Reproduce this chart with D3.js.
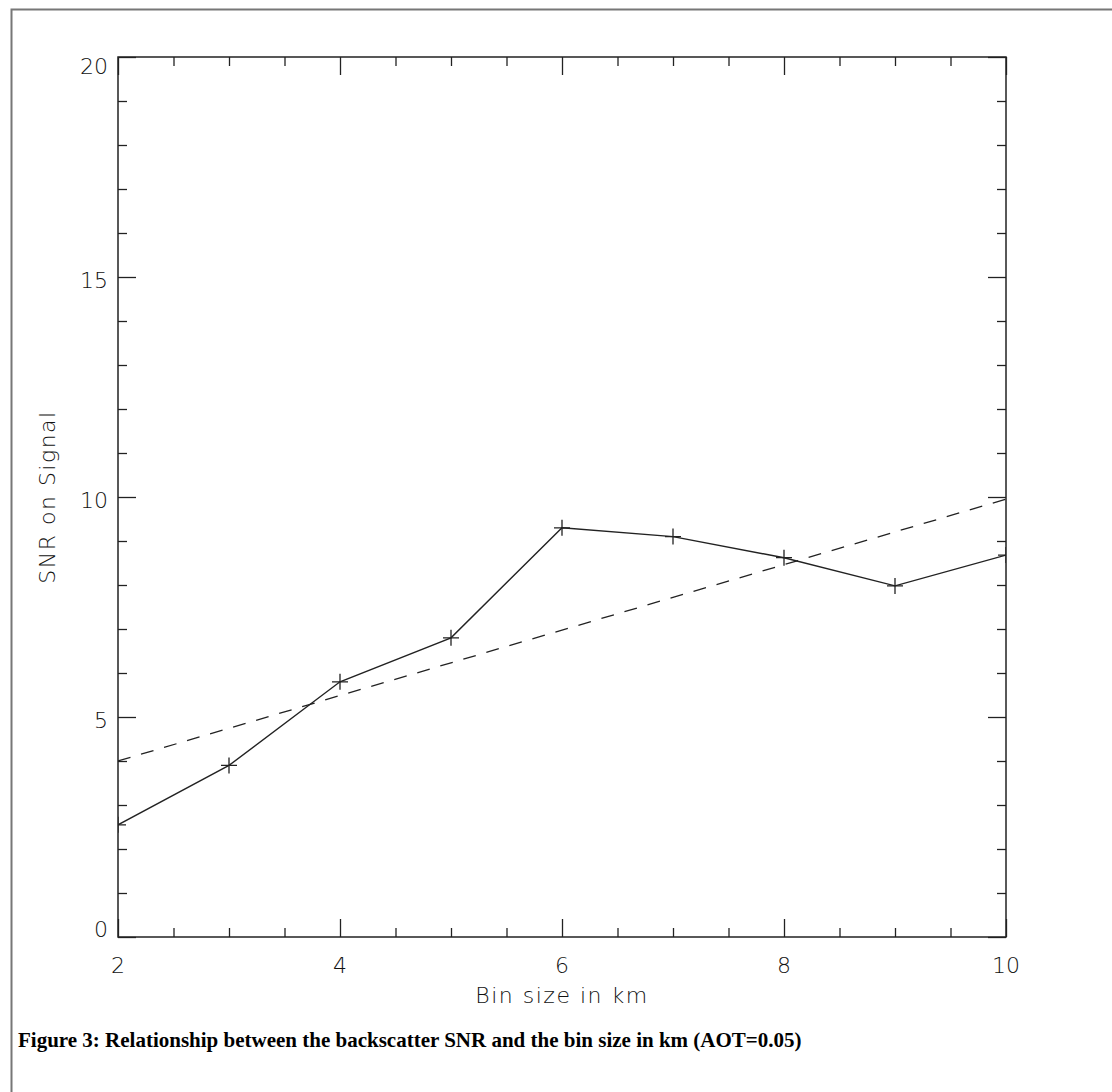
<!DOCTYPE html>
<html>
<head>
<meta charset="utf-8">
<script src="https://cdn.jsdelivr.net/npm/d3@7"></script>
<style>
  body { margin: 0; background: #fff; }
  svg { display: block; }
  .tick-label { font-family: "DejaVu Sans", sans-serif; font-weight: 200; font-size: 22px; fill: #111; }
  .axis-title { font-family: "DejaVu Sans", sans-serif; font-weight: 200; font-size: 22px; fill: #111; letter-spacing: 1.5px; }
  .caption { font-family: "Liberation Serif", serif; font-weight: bold; font-size: 21px; fill: #000; }
</style>
</head>
<body>
<script>
// bin size (km) and SNR
const binSize = [2, 3, 4, 5, 6, 7, 8, 9, 10];
const snr = [2.55, 3.9, 5.8, 6.8, 9.3, 9.1, 8.62, 7.98, 8.68];

// dashed trend line endpoints
const fitX = [2, 10];
const fitY = [4.0, 9.95];

const xTicks = [2, 4, 6, 8, 10];
const yTicks = [0, 5, 10, 15, 20];

const width = 1112, height = 1092;
const plotLeft = 118, plotRight = 1006, plotTop = 57, plotBottom = 937;

const svg = d3.select('body').append('svg')
  .attr('width', width)
  .attr('height', height);

// page frame (left and top edges only)
svg.append('path')
  .attr('d', `M11.5 ${height}V9.5H${width}`)
  .attr('fill', 'none')
  .attr('stroke', '#777')
  .attr('stroke-width', 2);

const x = d3.scaleLinear().domain([2, 10]).range([plotLeft, plotRight]);
const y = d3.scaleLinear().domain([0, 20]).range([plotBottom, plotTop]);

const minorX = d3.range(2, 10.01, 0.5).filter(v => v % 2 !== 0);
const minorY = d3.range(0, 20.01, 1).filter(v => v % 5 !== 0);

const addAxis = (axis, transform) => {
  const g = svg.append('g')
    .attr('transform', transform)
    .call(axis);
  g.select('.domain').remove();
  g.selectAll('line').attr('stroke', '#222').attr('stroke-width', 1.3);
  return g;
};

// major and minor ticks on all four sides, pointing inward
addAxis(d3.axisTop(x).tickValues(xTicks).tickSize(18).tickFormat(''), `translate(0,${plotBottom})`);
addAxis(d3.axisTop(x).tickValues(minorX).tickSize(9).tickFormat(''), `translate(0,${plotBottom})`);
addAxis(d3.axisBottom(x).tickValues(xTicks).tickSize(18).tickFormat(''), `translate(0,${plotTop})`);
addAxis(d3.axisBottom(x).tickValues(minorX).tickSize(9).tickFormat(''), `translate(0,${plotTop})`);
addAxis(d3.axisRight(y).tickValues(yTicks).tickSize(18).tickFormat(''), `translate(${plotLeft},0)`);
addAxis(d3.axisRight(y).tickValues(minorY).tickSize(9).tickFormat(''), `translate(${plotLeft},0)`);
addAxis(d3.axisLeft(y).tickValues(yTicks).tickSize(18).tickFormat(''), `translate(${plotRight},0)`);
addAxis(d3.axisLeft(y).tickValues(minorY).tickSize(9).tickFormat(''), `translate(${plotRight},0)`);

// plot box
svg.append('rect')
  .attr('x', plotLeft)
  .attr('y', plotTop)
  .attr('width', plotRight - plotLeft)
  .attr('height', plotBottom - plotTop)
  .attr('fill', 'none')
  .attr('stroke', '#222')
  .attr('stroke-width', 1.5);

// tick labels
svg.selectAll('.xlabel')
  .data(xTicks)
  .join('text')
  .classed('tick-label', true)
  .attr('x', d => x(d))
  .attr('y', plotBottom + 36)
  .attr('text-anchor', 'middle')
  .text(d => d);

svg.selectAll('.ylabel')
  .data(yTicks)
  .join('text')
  .classed('tick-label', true)
  .attr('x', plotLeft - 10)
  .attr('y', d => {
    if (d === 0) return y(d);
    if (d === 20) return y(d) + 17;
    return y(d) + 11;
  })
  .attr('text-anchor', 'end')
  .text(d => d);

svg.append('text')
  .classed('axis-title', true)
  .attr('x', (plotLeft + plotRight) / 2)
  .attr('y', 1003)
  .attr('text-anchor', 'middle')
  .text('Bin size in km');

svg.append('text')
  .classed('axis-title', true)
  .attr('transform', `translate(55, ${(plotTop + plotBottom) / 2}) rotate(-90)`)
  .attr('text-anchor', 'middle')
  .text('SNR on Signal');

svg.append('text')
  .classed('caption', true)
  .attr('x', 18)
  .attr('y', 1047)
  .text('Figure 3: Relationship between the backscatter SNR and the bin size in km (AOT=0.05)');

// data, clipped to the plot box
svg.append('clipPath')
  .attr('id', 'plot-clip')
  .append('rect')
  .attr('x', plotLeft)
  .attr('y', plotTop)
  .attr('width', plotRight - plotLeft)
  .attr('height', plotBottom - plotTop);

const plot = svg.append('g').attr('clip-path', 'url(#plot-clip)');

const line = d3.line()
  .x(d => x(d[0]))
  .y(d => y(d[1]));

plot.append('path')
  .datum(d3.zip(fitX, fitY))
  .attr('d', line)
  .attr('fill', 'none')
  .attr('stroke', '#222')
  .attr('stroke-width', 1.3)
  .attr('stroke-dasharray', '13,11');

plot.append('path')
  .datum(d3.zip(binSize, snr))
  .attr('d', line)
  .attr('fill', 'none')
  .attr('stroke', '#222')
  .attr('stroke-width', 1.4);

plot.selectAll('.marker')
  .data(d3.zip(binSize, snr))
  .join('path')
  .classed('marker', true)
  .attr('d', d => {
    const cx = x(d[0]), cy = y(d[1]);
    return `M${cx - 8} ${cy}H${cx + 8}M${cx} ${cy - 8}V${cy + 8}`;
  })
  .attr('stroke', '#222')
  .attr('stroke-width', 1.3);
</script>
</body>
</html>
